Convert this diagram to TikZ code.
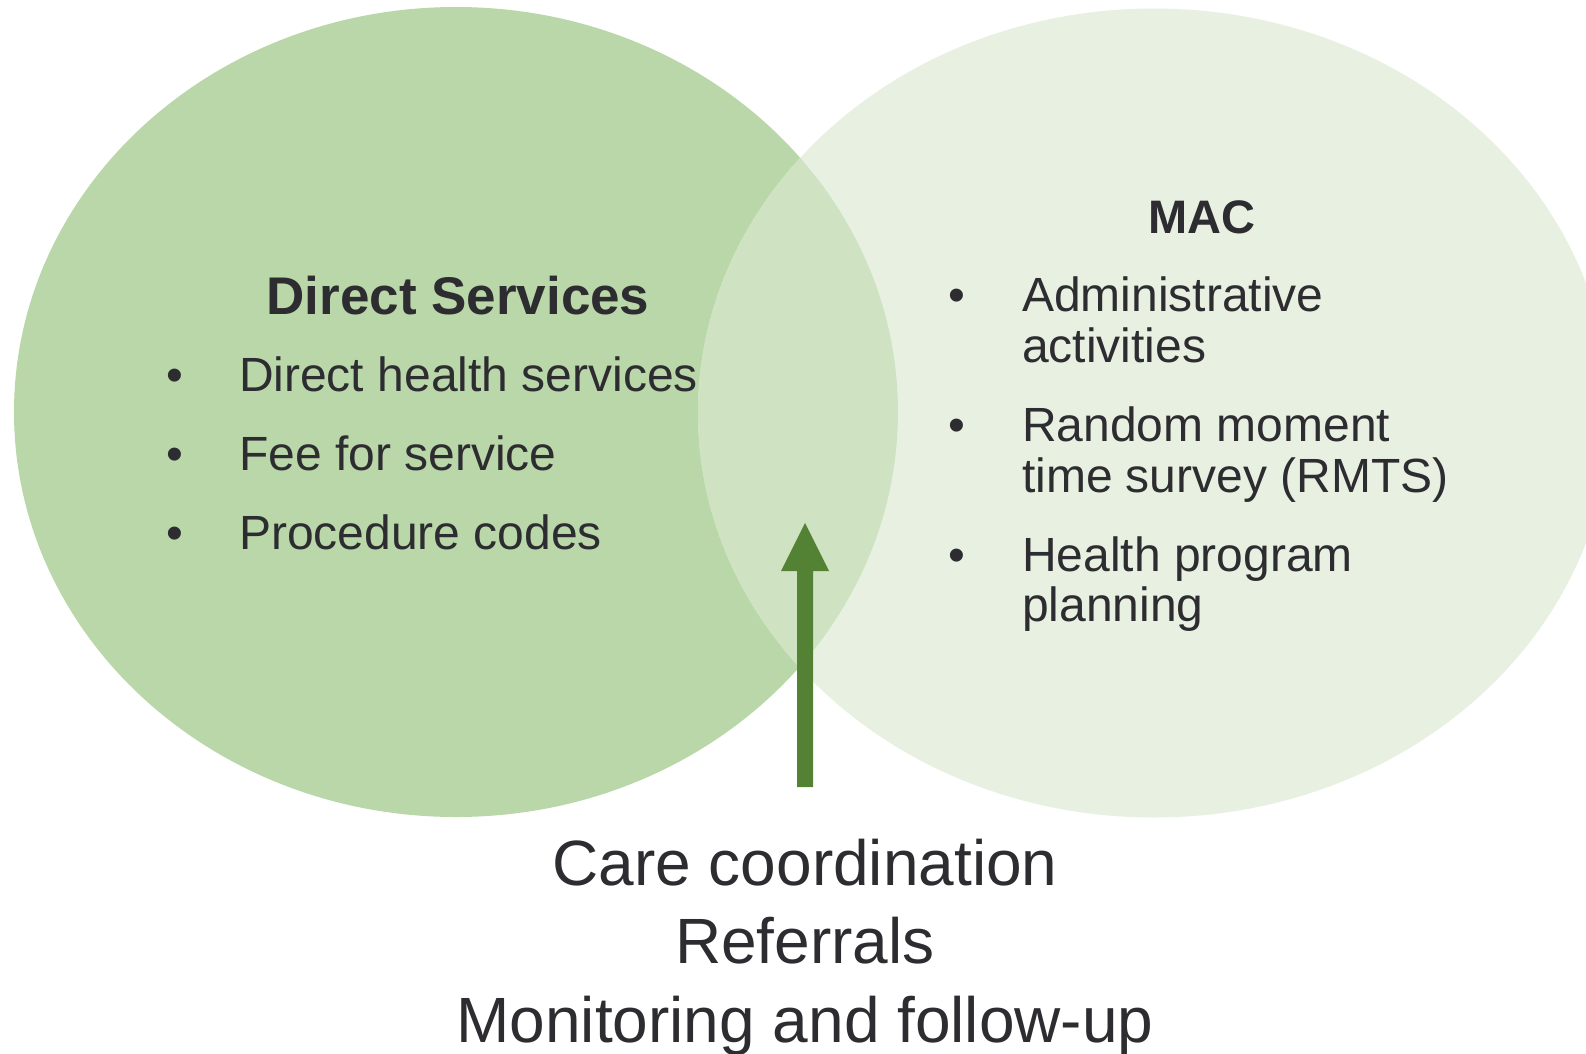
\documentclass[tikz,border=0pt]{standalone}
\usepackage{fontspec}
\setmainfont{Liberation Sans}
\definecolor{leftgreen}{RGB}{185,215,168}
\definecolor{rightgreen}{RGB}{232,241,225}
\definecolor{overgreen}{RGB}{207,227,195}
\definecolor{arrowgreen}{RGB}{84,130,53}
\definecolor{txt}{RGB}{45,44,48}
\begin{document}
\begin{tikzpicture}[x=1pt,y=-1pt,
  every node/.style={inner sep=0pt,outer sep=0pt,text=txt},
  headbig/.style={anchor=base,font=\fontsize{53}{60}\selectfont\bfseries},
  headsmall/.style={anchor=base,font=\fontsize{47}{52}\selectfont\bfseries},
  bul/.style={anchor=base,font=\fontsize{48}{52}\selectfont},
  item/.style={anchor=base west,font=\fontsize{48}{52}\selectfont},
  bottomtxt/.style={anchor=base,font=\fontsize{64}{78}\selectfont}]
\useasboundingbox (0,0) rectangle (1586,1053);
\fill[leftgreen] (456,412) ellipse [x radius=442, y radius=405];
\fill[rightgreen] (1154,413) ellipse [x radius=456, y radius=404.5];
\begin{scope}
  \clip (456,412) ellipse [x radius=442, y radius=405];
  \fill[overgreen] (1154,413) ellipse [x radius=456, y radius=404.5];
\end{scope}
% arrow
\coordinate (tip) at (805,523);
\fill[arrowgreen] (797,787) -- (797,571) -- (781,571) -- (tip) -- (829,571) -- (813,571) -- (813,787) -- cycle;
% left texts
\node[headbig] (ds) at (458,314) {Direct Services};
\node[bul] (b1) at (175,391) {•};
\node[item] (l1) at (239,391) {Direct health services};
\node[bul] (b2) at (175,470) {•};
\node[item] (l2) at (239,470) {Fee for service};
\node[bul] (b3) at (175,549) {•};
\node[item] (l3) at (239,549) {Procedure codes};
% right texts
\node[headsmall] (mac) at (1202,233) {MAC};
\node[bul] (r1b) at (957,311) {•};
\node[item] (r1a) at (1022,311) {Administrative};
\node[item] (r1c) at (1022,362) {activities};
\node[bul] (r2b) at (957,441) {•};
\node[item] (r2a) at (1022,441) {Random moment};
\node[item] (r2c) at (1022,492) {time survey (RMTS)};
\node[bul] (r3b) at (957,571) {•};
\node[item] (r3a) at (1022,571) {Health program};
\node[item] (r3c) at (1022,621) {planning};
% bottom texts
\node[bottomtxt] (c1) at (805,885) {Care coordination};
\node[bottomtxt] (c2) at (805,963) {Referrals};
\node[bottomtxt] (c3) at (805,1042) {Monitoring and follow-up};
\end{tikzpicture}
\end{document}
